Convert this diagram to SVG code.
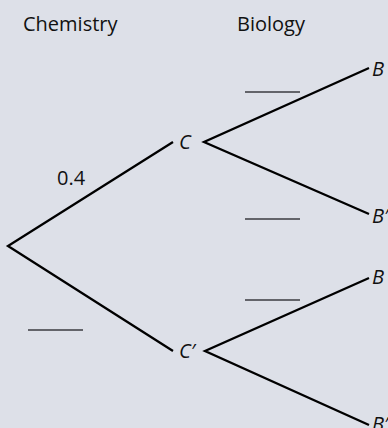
<svg xmlns="http://www.w3.org/2000/svg" width="388" height="428" viewBox="0 0 388 428">
<style>
.bg{fill:#dde0e8}
.br{stroke:#000;stroke-width:2.3;fill:none;stroke-linejoin:miter}
.blank{stroke:#3a3b40;stroke-width:1.6}
.t{font-family:"Open Sans","Noto Sans",sans-serif;font-size:20px;fill:#111}
.i{font-family:"Open Sans","Noto Sans",sans-serif;font-size:20px;font-style:italic;fill:#111}
</style>
<rect class="bg" width="388" height="428"/>
<g id="headers">
<text class="t" x="23" y="31">Chemistry</text>
<text class="t" x="237" y="31">Biology</text>
</g>
<g id="connectors">
<polyline class="br" points="173,142 8,246 173,351"/>
<polyline class="br" points="369,68 204,142 369,214"/>
<polyline class="br" points="369,278 205,351 369,425"/>
</g>
<g id="node-C"><text class="i" x="179" y="149">C</text></g>
<g id="node-Cp"><text class="i" x="179" y="358">C′</text></g>
<g id="node-B1"><text class="i" x="372" y="76">B</text></g>
<g id="node-Bp1"><text class="i" x="372" y="223">B′</text></g>
<g id="node-B2"><text class="i" x="372" y="284">B</text></g>
<g id="node-Bp2"><text class="i" x="372" y="431">B′</text></g>
<g id="labels">
<text class="t" x="57" y="185">0.4</text>
<line class="blank" x1="245" y1="92" x2="300" y2="92"/>
<line class="blank" x1="245" y1="219" x2="300" y2="219"/>
<line class="blank" x1="245" y1="300" x2="300" y2="300"/>
<line class="blank" x1="28" y1="330" x2="83" y2="330"/>
</g>
</svg>
